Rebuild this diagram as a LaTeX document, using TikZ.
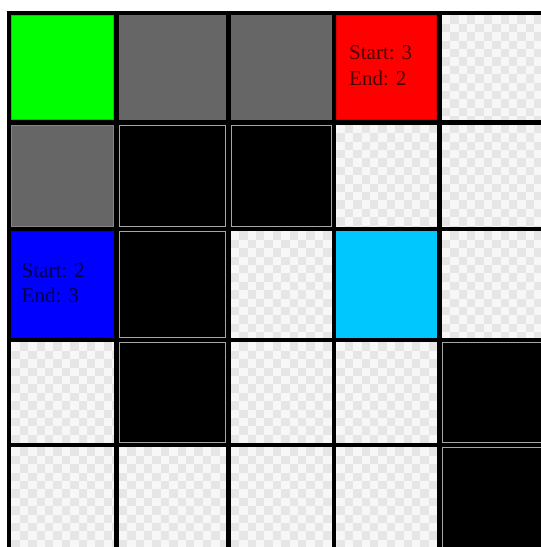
\documentclass[tikz,border=0pt]{standalone}
\usepackage{fontspec}
\setmainfont{Liberation Serif}
\definecolor{cgreen}{HTML}{00FF00}
\definecolor{cgray}{HTML}{666666}
\definecolor{cred}{HTML}{FF0000}
\definecolor{cblue}{HTML}{0000FF}
\definecolor{ccyan}{HTML}{00C8FF}
\definecolor{chkA}{HTML}{F7F7F7}
\definecolor{chkB}{HTML}{E6E6E6}
\begin{document}
\begin{tikzpicture}[x=1pt,y=-1pt,
  cellbox/.style={rectangle, inner sep=0pt, outer sep=0pt, line width=1pt},
  gridline/.style={line width=4.6pt, black},
  lbl/.style={anchor=base west, inner sep=0pt, font=\fontsize{21}{26}\selectfont, text=black, text opacity=0.72}]
\useasboundingbox (0,0) rectangle (541,547);
\fill[white] (0,0) rectangle (541,547);
\def\xs{{9,116.5,228.5,334,439.5,547}}
\def\ys{{13,122.5,229,340,445,553}}
% checker cells
\foreach \r/\c in {0/4,1/3,1/4,2/2,2/4,3/0,3/2,3/3,4/0,4/1,4/2,4/3}{
  \pgfmathsetmacro\xa{\xs[\c]+2.3}
  \pgfmathsetmacro\xb{\xs[\c+1]-2.3}
  \pgfmathsetmacro\ya{\ys[\r]+2.3}
  \pgfmathsetmacro\yb{\ys[\r+1]-2.3}
  \begin{scope}
    \clip (\xa,\ya) rectangle (\xb,\yb);
    \fill[chkA] (\xa,\ya) rectangle (\xb,\yb);
    \foreach \i in {0,...,13}{
      \foreach \j in {0,...,13}{
        \pgfmathtruncatemacro\p{mod(\i+\j,2)}
        \ifnum\p=1
          \fill[chkB] (\xa+8.4*\i,\ya+8.4*\j) rectangle ++(8.4,8.4);
        \fi
      }
    }
  \end{scope}
  \node[cellbox, minimum width=\xb-\xa, minimum height=\yb-\ya] (c\r\c) at ({(\xa+\xb)/2},{(\ya+\yb)/2}) {};
}
% coloured cells
\foreach \r/\c/\f/\d in {0/0/cgreen/cgreen!80!black,0/1/cgray/cgray!70!magenta,0/2/cgray/cgray!70!magenta,0/3/cred/cred!85!black,
  1/0/cgray/cgray!80!white,1/1/black/gray!70,1/2/black/gray!70,
  2/0/cblue/cblue!85!black,2/1/black/gray!70,2/3/ccyan/ccyan,
  3/1/black/gray!70,3/4/black/gray!70,4/4/black/gray!70}{
  \pgfmathsetmacro\xa{\xs[\c]+2.8}
  \pgfmathsetmacro\xb{\xs[\c+1]-2.8}
  \pgfmathsetmacro\ya{\ys[\r]+2.8}
  \pgfmathsetmacro\yb{\ys[\r+1]-2.8}
  \node[cellbox, fill=\f, draw=\d, minimum width=\xb-\xa, minimum height=\yb-\ya] (c\r\c) at ({(\xa+\xb)/2},{(\ya+\yb)/2}) {};
}
% grid lines
\foreach \x in {9,116.5,228.5,334,439.5}{
  \draw[gridline] (\x,11) -- (\x,547);
}
\foreach \y in {13,122.5,229,340,445}{
  \draw[gridline] (6.7,\y) -- (541,\y);
}
% labels
\node[lbl] (t03a) at (349,59) {Start: 3};
\node[lbl] (t03b) at (349,85) {End: 2};
\node[lbl] (t20a) at (21.5,277) {Start: 2};
\node[lbl] (t20b) at (21.5,302) {End: 3};
\end{tikzpicture}
\end{document}
